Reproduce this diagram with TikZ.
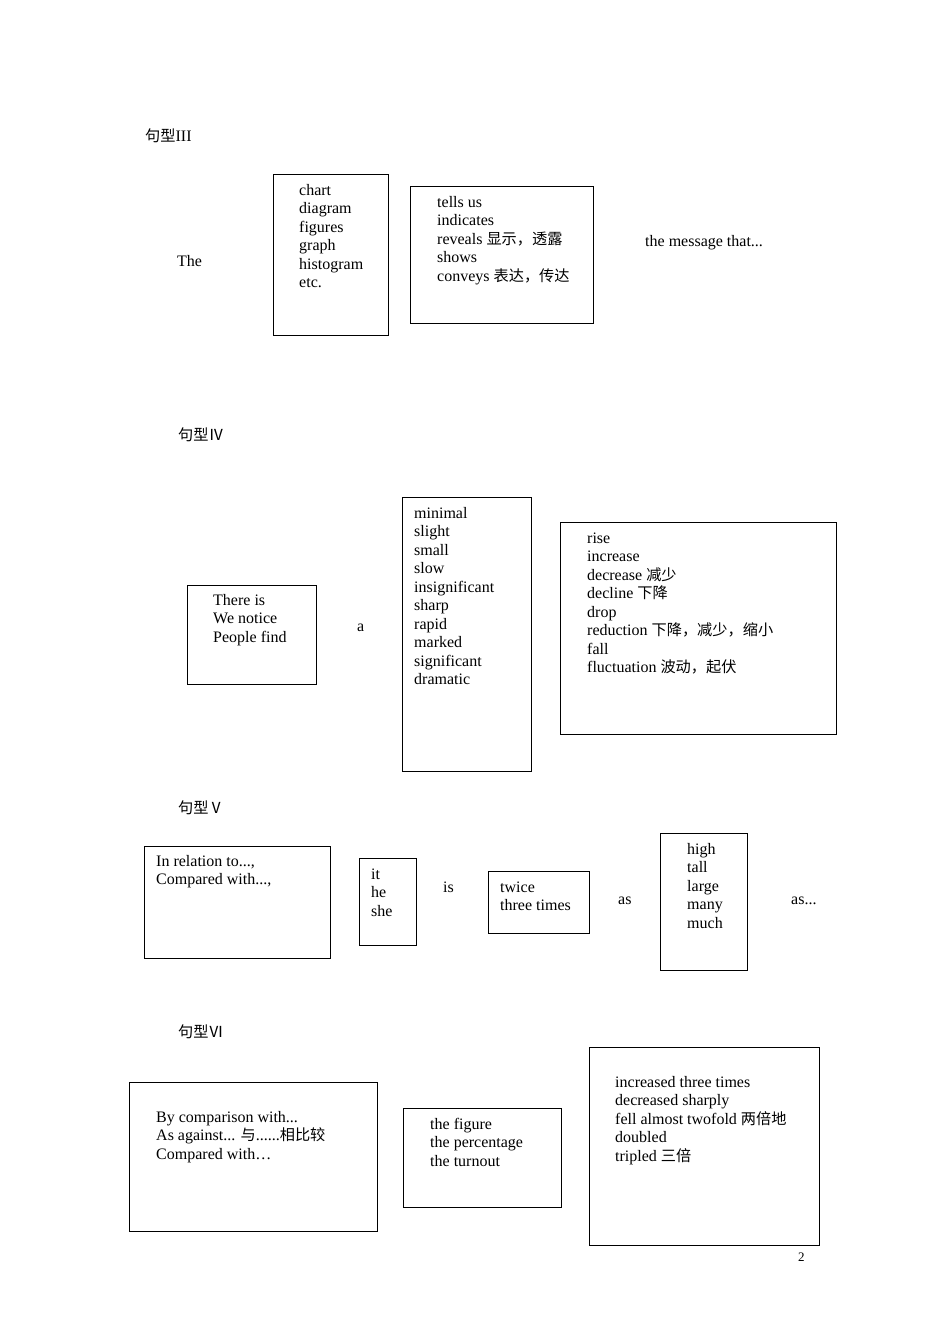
\documentclass[tikz,border=0pt]{standalone}
\usepackage{fontspec}
\setmainfont{Liberation Serif}
\newfontfamily\cjk{Noto Sans CJK SC}[Scale=0.95]
\newcommand\zh[1]{{\cjk #1}}
\tikzset{
 bx/.style={draw,thick,anchor=north west,inner sep=0pt},
 tx/.style={anchor=north west,inner sep=0pt,align=left,font=\fontsize{16}{18.5}\selectfont},
 lb/.style={anchor=base west,inner sep=0pt,font=\fontsize{16}{18.5}\selectfont}
}
\newcommand\bxat[5]{\node[bx,minimum width=#3-#1,minimum height=#4-#2] (#5) at (#1,-#2) {};}
\newcommand\txat[4]{\node[tx] (#3) at (#1,-#2+8) {\strut #4};}
\newcommand\lbat[4]{\node[lb] (#3) at (#1,-#2-5) {#4};}
\begin{document}
\begin{tikzpicture}[x=1pt,y=1pt]
\useasboundingbox (0,0) rectangle (950,-1344);
% III
\lbat{145}{136}{h3}{\zh{句型}III}
\lbat{177}{261}{the}{The}
\bxat{273}{174}{388}{335}{b1}
\txat{299}{190}{t1}{chart\\diagram\\figures\\graph\\histogram\\etc.}
\bxat{410}{186}{593}{323}{b2}
\txat{437}{202}{t2}{tells us\\indicates\\reveals \zh{显示，透露}\\shows\\conveys \zh{表达，传达}}
\lbat{645}{241}{msg}{the message that...}
% IV
\lbat{178}{435}{h4}{\zh{句型Ⅳ}}
\bxat{187}{585}{316}{684}{b3}
\txat{213}{600}{t3}{There is\\We notice\\People find}
\lbat{357}{626}{a}{a}
\bxat{402}{497}{531}{771}{b4}
\txat{414}{513}{t4}{minimal\\slight\\small\\slow\\insignificant\\sharp\\rapid\\marked\\significant\\dramatic}
\bxat{560}{522}{836}{734}{b5}
\txat{587}{538}{t5}{rise\\increase\\decrease \zh{减少}\\decline \zh{下降}\\drop\\reduction \zh{下降，减少，缩小}\\fall\\fluctuation \zh{波动，起伏}}
% V
\lbat{178}{808}{h5}{\zh{句型Ⅴ}}
\bxat{144}{846}{330}{958}{b6}
\txat{156}{861}{t6}{In relation to...,\\Compared with...,}
\bxat{359}{858}{416}{945}{b7}
\txat{371}{874}{t7}{it\\he\\she}
\lbat{443}{887}{is}{is}
\bxat{488}{871}{589}{933}{b8}
\txat{500}{887}{t8}{twice\\three times}
\lbat{618}{899}{as1}{as}
\bxat{660}{833}{747}{970}{b9}
\txat{687}{849}{t9}{high\\tall\\large\\many\\much}
\lbat{791}{899}{as2}{as...}
% VI
\lbat{178}{1032}{h6}{\zh{句型Ⅵ}}
\bxat{129}{1082}{377}{1231}{b10}
\txat{156}{1117}{t10}{By comparison with...\\As against... \zh{与}......\zh{相比较}\\Compared with…}
\bxat{403}{1108}{561}{1207}{b11}
\txat{430}{1124}{t11}{the figure\\the percentage\\the turnout}
\bxat{589}{1047}{819}{1245}{b12}
\txat{615}{1082}{t12}{increased three times\\decreased sharply\\fell almost twofold \zh{两倍地}\\doubled\\tripled \zh{三倍}}
\node[anchor=base west,inner sep=0pt,font=\fontsize{13}{14}\selectfont] (pg) at (798,-1261) {2};
\end{tikzpicture}
\end{document}
